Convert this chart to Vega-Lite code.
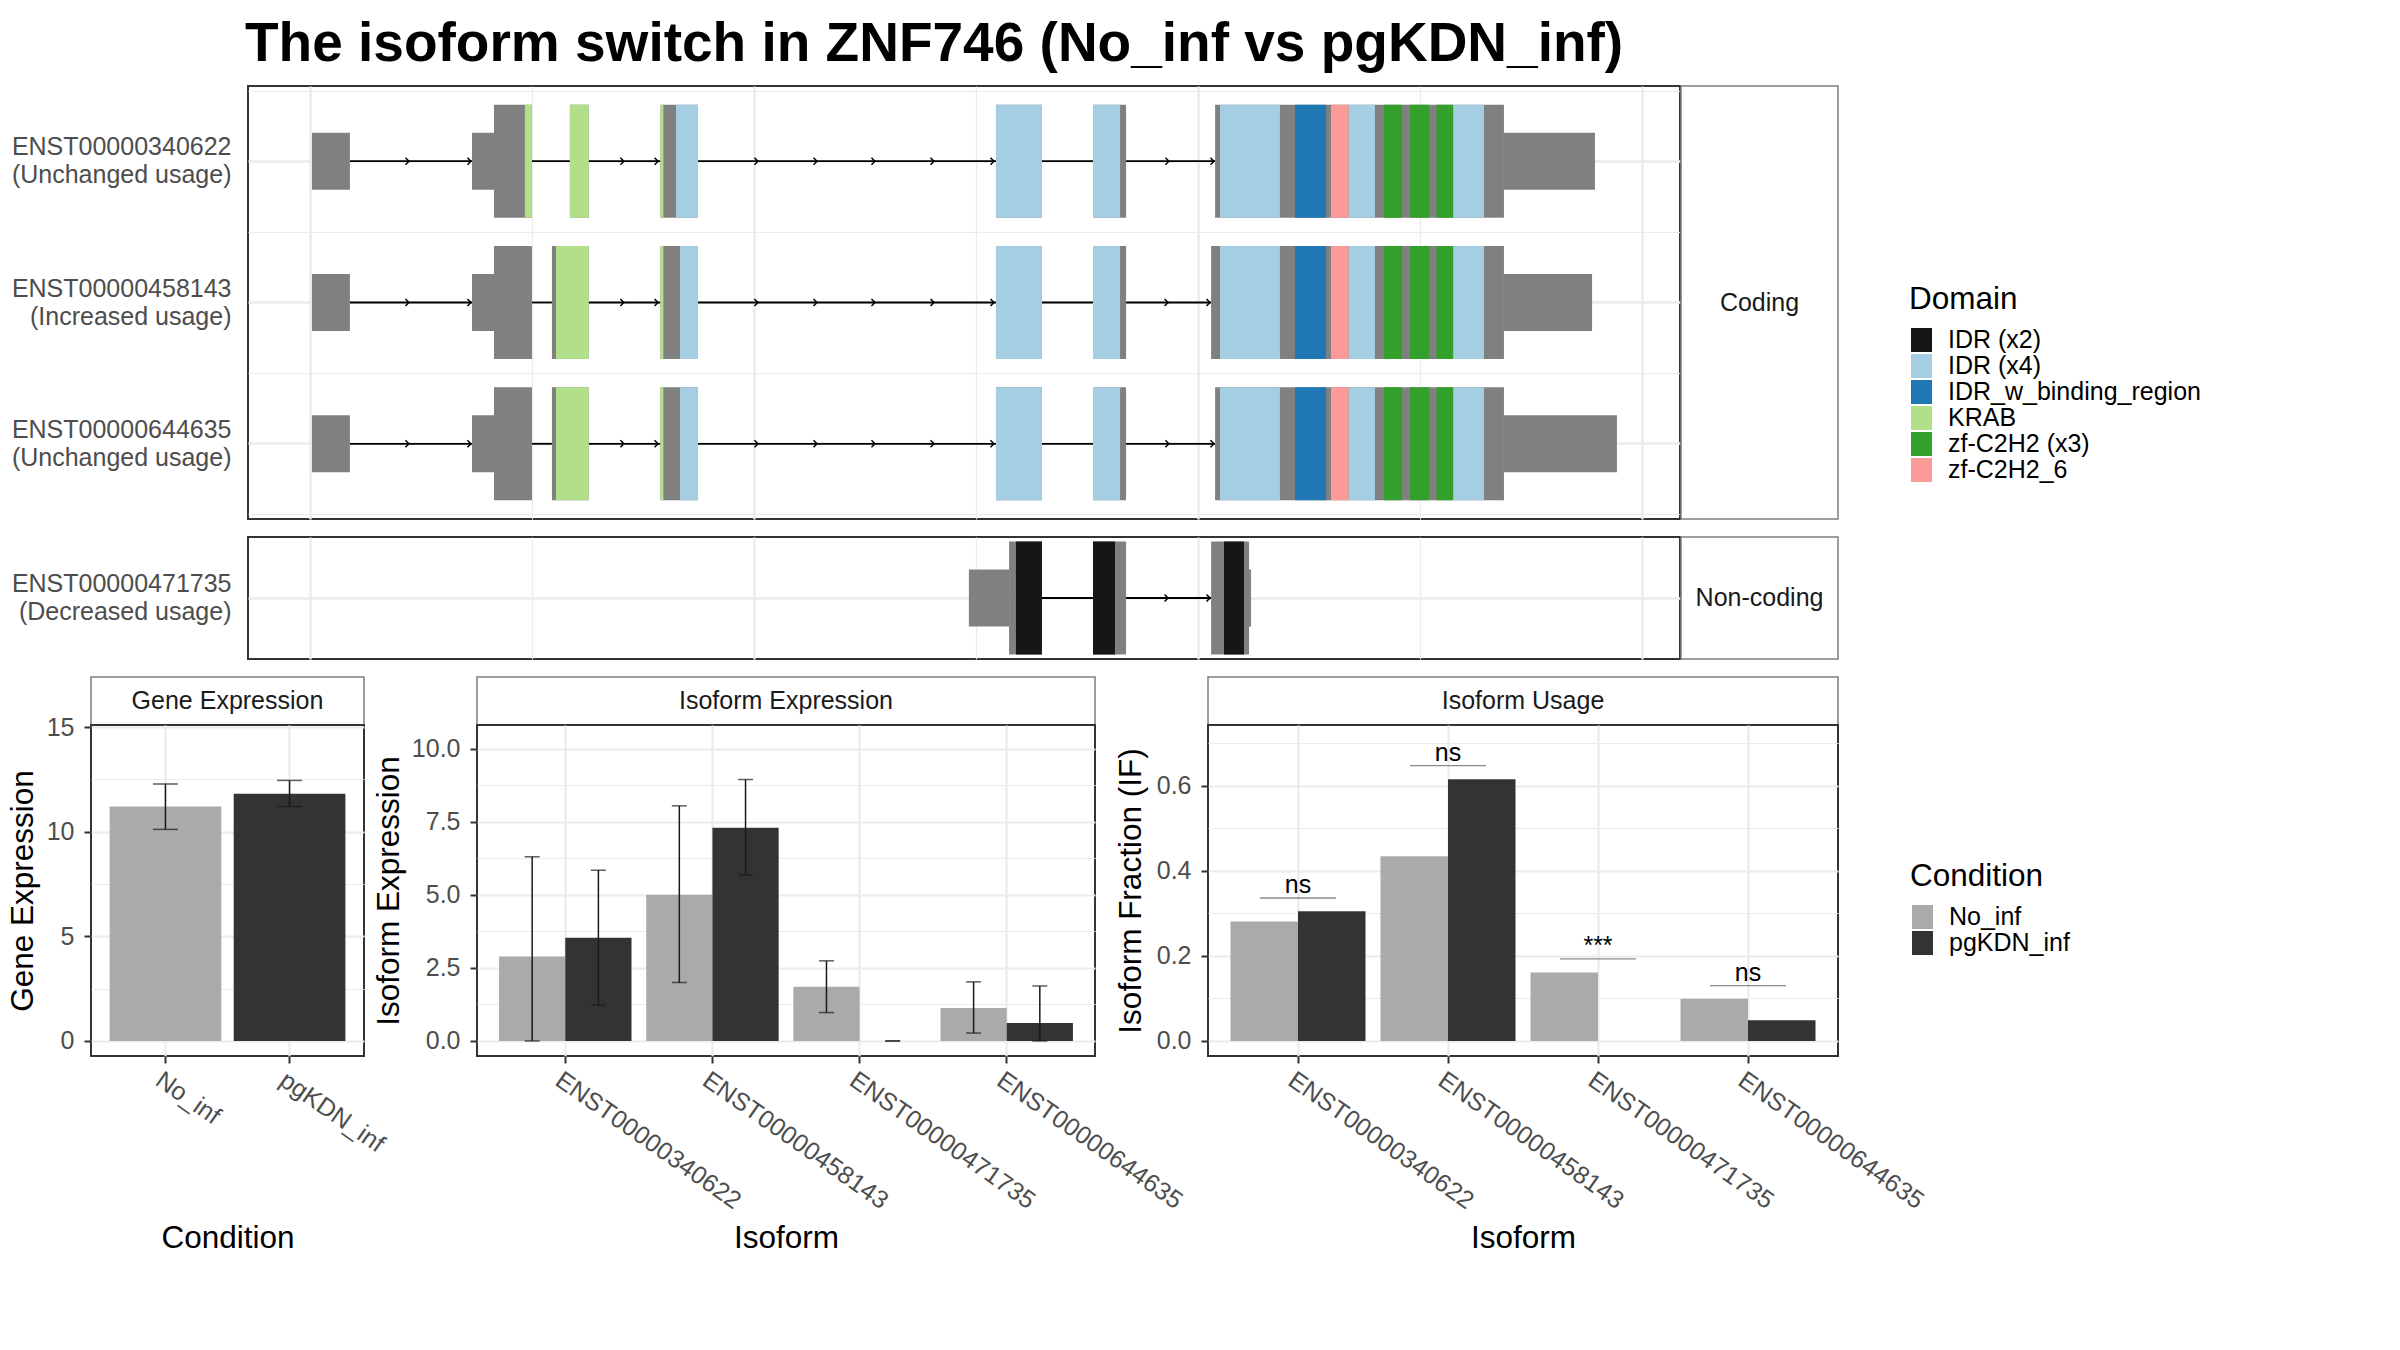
{
  "$schema": "https://vega.github.io/schema/vega-lite/v6.json",
  "background": "white",
  "padding": {"left": 6, "top": 17, "right": 10, "bottom": 10},
  "title": {"text": "The isoform switch in ZNF746 (No_inf vs pgKDN_inf)", "anchor": "start", "frame": "bounds", "fontSize": 55, "fontWeight": "bold", "color": "black", "font": "Liberation Sans", "dx": 239, "offset": 12},
  "datasets": {
    "exons": [
      {"panel": "Coding", "transcript": "ENST00000340622\n(Unchanged usage)", "part": "UTR", "start": 9, "end": 180},
      {"panel": "Coding", "transcript": "ENST00000340622\n(Unchanged usage)", "part": "UTR", "start": 730, "end": 829},
      {"panel": "Coding", "transcript": "ENST00000340622\n(Unchanged usage)", "part": "UTR", "start": 5378, "end": 5788},
      {"panel": "Coding", "transcript": "ENST00000340622\n(Unchanged usage)", "part": "CDS", "start": 829, "end": 1000},
      {"panel": "Coding", "transcript": "ENST00000340622\n(Unchanged usage)", "part": "CDS", "start": 1171, "end": 1255},
      {"panel": "Coding", "transcript": "ENST00000340622\n(Unchanged usage)", "part": "CDS", "start": 1579, "end": 1748},
      {"panel": "Coding", "transcript": "ENST00000340622\n(Unchanged usage)", "part": "CDS", "start": 3090, "end": 3297},
      {"panel": "Coding", "transcript": "ENST00000340622\n(Unchanged usage)", "part": "CDS", "start": 3527, "end": 3676},
      {"panel": "Coding", "transcript": "ENST00000340622\n(Unchanged usage)", "part": "CDS", "start": 4077, "end": 5378},
      {"panel": "Coding", "transcript": "ENST00000458143\n(Increased usage)", "part": "UTR", "start": 9, "end": 180},
      {"panel": "Coding", "transcript": "ENST00000458143\n(Increased usage)", "part": "UTR", "start": 730, "end": 829},
      {"panel": "Coding", "transcript": "ENST00000458143\n(Increased usage)", "part": "UTR", "start": 5378, "end": 5775},
      {"panel": "Coding", "transcript": "ENST00000458143\n(Increased usage)", "part": "CDS", "start": 829, "end": 1000},
      {"panel": "Coding", "transcript": "ENST00000458143\n(Increased usage)", "part": "CDS", "start": 1090, "end": 1255},
      {"panel": "Coding", "transcript": "ENST00000458143\n(Increased usage)", "part": "CDS", "start": 1579, "end": 1748},
      {"panel": "Coding", "transcript": "ENST00000458143\n(Increased usage)", "part": "CDS", "start": 3090, "end": 3297},
      {"panel": "Coding", "transcript": "ENST00000458143\n(Increased usage)", "part": "CDS", "start": 3527, "end": 3676},
      {"panel": "Coding", "transcript": "ENST00000458143\n(Increased usage)", "part": "CDS", "start": 4059, "end": 5378},
      {"panel": "Coding", "transcript": "ENST00000644635\n(Unchanged usage)", "part": "UTR", "start": 9, "end": 180},
      {"panel": "Coding", "transcript": "ENST00000644635\n(Unchanged usage)", "part": "UTR", "start": 730, "end": 829},
      {"panel": "Coding", "transcript": "ENST00000644635\n(Unchanged usage)", "part": "UTR", "start": 5378, "end": 5887},
      {"panel": "Coding", "transcript": "ENST00000644635\n(Unchanged usage)", "part": "CDS", "start": 829, "end": 1000},
      {"panel": "Coding", "transcript": "ENST00000644635\n(Unchanged usage)", "part": "CDS", "start": 1090, "end": 1255},
      {"panel": "Coding", "transcript": "ENST00000644635\n(Unchanged usage)", "part": "CDS", "start": 1579, "end": 1748},
      {"panel": "Coding", "transcript": "ENST00000644635\n(Unchanged usage)", "part": "CDS", "start": 3090, "end": 3297},
      {"panel": "Coding", "transcript": "ENST00000644635\n(Unchanged usage)", "part": "CDS", "start": 3527, "end": 3676},
      {"panel": "Coding", "transcript": "ENST00000644635\n(Unchanged usage)", "part": "CDS", "start": 4077, "end": 5378},
      {"panel": "Non-coding", "transcript": "ENST00000471735\n(Decreased usage)", "part": "UTR", "start": 2968, "end": 3149},
      {"panel": "Non-coding", "transcript": "ENST00000471735\n(Decreased usage)", "part": "UTR", "start": 4230, "end": 4239},
      {"panel": "Non-coding", "transcript": "ENST00000471735\n(Decreased usage)", "part": "CDS", "start": 3149, "end": 3297},
      {"panel": "Non-coding", "transcript": "ENST00000471735\n(Decreased usage)", "part": "CDS", "start": 3527, "end": 3676},
      {"panel": "Non-coding", "transcript": "ENST00000471735\n(Decreased usage)", "part": "CDS", "start": 4059, "end": 4230}
    ],
    "domains": [
      {"panel": "Coding", "transcript": "ENST00000340622\n(Unchanged usage)", "domain": "KRAB", "start": 968, "end": 1000},
      {"panel": "Coding", "transcript": "ENST00000340622\n(Unchanged usage)", "domain": "KRAB", "start": 1171, "end": 1255},
      {"panel": "Coding", "transcript": "ENST00000340622\n(Unchanged usage)", "domain": "KRAB", "start": 1579, "end": 1592},
      {"panel": "Coding", "transcript": "ENST00000340622\n(Unchanged usage)", "domain": "IDR (x4)", "start": 1649, "end": 1748},
      {"panel": "Coding", "transcript": "ENST00000340622\n(Unchanged usage)", "domain": "IDR (x4)", "start": 3090, "end": 3297},
      {"panel": "Coding", "transcript": "ENST00000340622\n(Unchanged usage)", "domain": "IDR (x4)", "start": 3527, "end": 3649},
      {"panel": "Coding", "transcript": "ENST00000340622\n(Unchanged usage)", "domain": "IDR (x4)", "start": 4099, "end": 4369},
      {"panel": "Coding", "transcript": "ENST00000340622\n(Unchanged usage)", "domain": "IDR (x4)", "start": 4678, "end": 4797},
      {"panel": "Coding", "transcript": "ENST00000340622\n(Unchanged usage)", "domain": "IDR (x4)", "start": 5149, "end": 5288},
      {"panel": "Coding", "transcript": "ENST00000340622\n(Unchanged usage)", "domain": "IDR_w_binding_region", "start": 4437, "end": 4577},
      {"panel": "Coding", "transcript": "ENST00000340622\n(Unchanged usage)", "domain": "zf-C2H2_6", "start": 4599, "end": 4678},
      {"panel": "Coding", "transcript": "ENST00000340622\n(Unchanged usage)", "domain": "zf-C2H2 (x3)", "start": 4838, "end": 4919},
      {"panel": "Coding", "transcript": "ENST00000340622\n(Unchanged usage)", "domain": "zf-C2H2 (x3)", "start": 4955, "end": 5041},
      {"panel": "Coding", "transcript": "ENST00000340622\n(Unchanged usage)", "domain": "zf-C2H2 (x3)", "start": 5074, "end": 5149},
      {"panel": "Coding", "transcript": "ENST00000458143\n(Increased usage)", "domain": "KRAB", "start": 1108, "end": 1255},
      {"panel": "Coding", "transcript": "ENST00000458143\n(Increased usage)", "domain": "KRAB", "start": 1579, "end": 1592},
      {"panel": "Coding", "transcript": "ENST00000458143\n(Increased usage)", "domain": "IDR (x4)", "start": 1667, "end": 1748},
      {"panel": "Coding", "transcript": "ENST00000458143\n(Increased usage)", "domain": "IDR (x4)", "start": 3090, "end": 3297},
      {"panel": "Coding", "transcript": "ENST00000458143\n(Increased usage)", "domain": "IDR (x4)", "start": 3527, "end": 3649},
      {"panel": "Coding", "transcript": "ENST00000458143\n(Increased usage)", "domain": "IDR (x4)", "start": 4099, "end": 4369},
      {"panel": "Coding", "transcript": "ENST00000458143\n(Increased usage)", "domain": "IDR (x4)", "start": 4678, "end": 4797},
      {"panel": "Coding", "transcript": "ENST00000458143\n(Increased usage)", "domain": "IDR (x4)", "start": 5149, "end": 5288},
      {"panel": "Coding", "transcript": "ENST00000458143\n(Increased usage)", "domain": "IDR_w_binding_region", "start": 4437, "end": 4577},
      {"panel": "Coding", "transcript": "ENST00000458143\n(Increased usage)", "domain": "zf-C2H2_6", "start": 4599, "end": 4678},
      {"panel": "Coding", "transcript": "ENST00000458143\n(Increased usage)", "domain": "zf-C2H2 (x3)", "start": 4838, "end": 4919},
      {"panel": "Coding", "transcript": "ENST00000458143\n(Increased usage)", "domain": "zf-C2H2 (x3)", "start": 4955, "end": 5041},
      {"panel": "Coding", "transcript": "ENST00000458143\n(Increased usage)", "domain": "zf-C2H2 (x3)", "start": 5074, "end": 5149},
      {"panel": "Coding", "transcript": "ENST00000644635\n(Unchanged usage)", "domain": "KRAB", "start": 1108, "end": 1255},
      {"panel": "Coding", "transcript": "ENST00000644635\n(Unchanged usage)", "domain": "KRAB", "start": 1579, "end": 1592},
      {"panel": "Coding", "transcript": "ENST00000644635\n(Unchanged usage)", "domain": "IDR (x4)", "start": 1667, "end": 1748},
      {"panel": "Coding", "transcript": "ENST00000644635\n(Unchanged usage)", "domain": "IDR (x4)", "start": 3090, "end": 3297},
      {"panel": "Coding", "transcript": "ENST00000644635\n(Unchanged usage)", "domain": "IDR (x4)", "start": 3527, "end": 3649},
      {"panel": "Coding", "transcript": "ENST00000644635\n(Unchanged usage)", "domain": "IDR (x4)", "start": 4099, "end": 4369},
      {"panel": "Coding", "transcript": "ENST00000644635\n(Unchanged usage)", "domain": "IDR (x4)", "start": 4678, "end": 4797},
      {"panel": "Coding", "transcript": "ENST00000644635\n(Unchanged usage)", "domain": "IDR (x4)", "start": 5149, "end": 5288},
      {"panel": "Coding", "transcript": "ENST00000644635\n(Unchanged usage)", "domain": "IDR_w_binding_region", "start": 4437, "end": 4577},
      {"panel": "Coding", "transcript": "ENST00000644635\n(Unchanged usage)", "domain": "zf-C2H2_6", "start": 4599, "end": 4678},
      {"panel": "Coding", "transcript": "ENST00000644635\n(Unchanged usage)", "domain": "zf-C2H2 (x3)", "start": 4838, "end": 4919},
      {"panel": "Coding", "transcript": "ENST00000644635\n(Unchanged usage)", "domain": "zf-C2H2 (x3)", "start": 4955, "end": 5041},
      {"panel": "Coding", "transcript": "ENST00000644635\n(Unchanged usage)", "domain": "zf-C2H2 (x3)", "start": 5074, "end": 5149},
      {"panel": "Non-coding", "transcript": "ENST00000471735\n(Decreased usage)", "domain": "IDR (x2)", "start": 3180, "end": 3297},
      {"panel": "Non-coding", "transcript": "ENST00000471735\n(Decreased usage)", "domain": "IDR (x2)", "start": 3527, "end": 3626},
      {"panel": "Non-coding", "transcript": "ENST00000471735\n(Decreased usage)", "domain": "IDR (x2)", "start": 4117, "end": 4207}
    ],
    "introns": [
      {"panel": "Coding", "transcript": "ENST00000340622\n(Unchanged usage)", "start": 180, "end": 730},
      {"panel": "Coding", "transcript": "ENST00000340622\n(Unchanged usage)", "start": 1000, "end": 1171},
      {"panel": "Coding", "transcript": "ENST00000340622\n(Unchanged usage)", "start": 1255, "end": 1579},
      {"panel": "Coding", "transcript": "ENST00000340622\n(Unchanged usage)", "start": 1748, "end": 3090},
      {"panel": "Coding", "transcript": "ENST00000340622\n(Unchanged usage)", "start": 3297, "end": 3527},
      {"panel": "Coding", "transcript": "ENST00000340622\n(Unchanged usage)", "start": 3676, "end": 4077},
      {"panel": "Coding", "transcript": "ENST00000458143\n(Increased usage)", "start": 180, "end": 730},
      {"panel": "Coding", "transcript": "ENST00000458143\n(Increased usage)", "start": 1000, "end": 1090},
      {"panel": "Coding", "transcript": "ENST00000458143\n(Increased usage)", "start": 1255, "end": 1579},
      {"panel": "Coding", "transcript": "ENST00000458143\n(Increased usage)", "start": 1748, "end": 3090},
      {"panel": "Coding", "transcript": "ENST00000458143\n(Increased usage)", "start": 3297, "end": 3527},
      {"panel": "Coding", "transcript": "ENST00000458143\n(Increased usage)", "start": 3676, "end": 4059},
      {"panel": "Coding", "transcript": "ENST00000644635\n(Unchanged usage)", "start": 180, "end": 730},
      {"panel": "Coding", "transcript": "ENST00000644635\n(Unchanged usage)", "start": 1000, "end": 1090},
      {"panel": "Coding", "transcript": "ENST00000644635\n(Unchanged usage)", "start": 1255, "end": 1579},
      {"panel": "Coding", "transcript": "ENST00000644635\n(Unchanged usage)", "start": 1748, "end": 3090},
      {"panel": "Coding", "transcript": "ENST00000644635\n(Unchanged usage)", "start": 3297, "end": 3527},
      {"panel": "Coding", "transcript": "ENST00000644635\n(Unchanged usage)", "start": 3676, "end": 4077},
      {"panel": "Non-coding", "transcript": "ENST00000471735\n(Decreased usage)", "start": 3297, "end": 3527},
      {"panel": "Non-coding", "transcript": "ENST00000471735\n(Decreased usage)", "start": 3676, "end": 4059}
    ],
    "arrows": [
      {"panel": "Coding", "transcript": "ENST00000340622\n(Unchanged usage)", "pos": 446},
      {"panel": "Coding", "transcript": "ENST00000340622\n(Unchanged usage)", "pos": 725},
      {"panel": "Coding", "transcript": "ENST00000340622\n(Unchanged usage)", "pos": 1414},
      {"panel": "Coding", "transcript": "ENST00000340622\n(Unchanged usage)", "pos": 1568},
      {"panel": "Coding", "transcript": "ENST00000340622\n(Unchanged usage)", "pos": 2018},
      {"panel": "Coding", "transcript": "ENST00000340622\n(Unchanged usage)", "pos": 2284},
      {"panel": "Coding", "transcript": "ENST00000340622\n(Unchanged usage)", "pos": 2545},
      {"panel": "Coding", "transcript": "ENST00000340622\n(Unchanged usage)", "pos": 2811},
      {"panel": "Coding", "transcript": "ENST00000340622\n(Unchanged usage)", "pos": 3081},
      {"panel": "Coding", "transcript": "ENST00000340622\n(Unchanged usage)", "pos": 3869},
      {"panel": "Coding", "transcript": "ENST00000340622\n(Unchanged usage)", "pos": 4072},
      {"panel": "Coding", "transcript": "ENST00000458143\n(Increased usage)", "pos": 446},
      {"panel": "Coding", "transcript": "ENST00000458143\n(Increased usage)", "pos": 725},
      {"panel": "Coding", "transcript": "ENST00000458143\n(Increased usage)", "pos": 1414},
      {"panel": "Coding", "transcript": "ENST00000458143\n(Increased usage)", "pos": 1568},
      {"panel": "Coding", "transcript": "ENST00000458143\n(Increased usage)", "pos": 2018},
      {"panel": "Coding", "transcript": "ENST00000458143\n(Increased usage)", "pos": 2284},
      {"panel": "Coding", "transcript": "ENST00000458143\n(Increased usage)", "pos": 2545},
      {"panel": "Coding", "transcript": "ENST00000458143\n(Increased usage)", "pos": 2811},
      {"panel": "Coding", "transcript": "ENST00000458143\n(Increased usage)", "pos": 3081},
      {"panel": "Coding", "transcript": "ENST00000458143\n(Increased usage)", "pos": 3865},
      {"panel": "Coding", "transcript": "ENST00000458143\n(Increased usage)", "pos": 4054},
      {"panel": "Coding", "transcript": "ENST00000644635\n(Unchanged usage)", "pos": 446},
      {"panel": "Coding", "transcript": "ENST00000644635\n(Unchanged usage)", "pos": 725},
      {"panel": "Coding", "transcript": "ENST00000644635\n(Unchanged usage)", "pos": 1414},
      {"panel": "Coding", "transcript": "ENST00000644635\n(Unchanged usage)", "pos": 1568},
      {"panel": "Coding", "transcript": "ENST00000644635\n(Unchanged usage)", "pos": 2018},
      {"panel": "Coding", "transcript": "ENST00000644635\n(Unchanged usage)", "pos": 2284},
      {"panel": "Coding", "transcript": "ENST00000644635\n(Unchanged usage)", "pos": 2545},
      {"panel": "Coding", "transcript": "ENST00000644635\n(Unchanged usage)", "pos": 2811},
      {"panel": "Coding", "transcript": "ENST00000644635\n(Unchanged usage)", "pos": 3081},
      {"panel": "Coding", "transcript": "ENST00000644635\n(Unchanged usage)", "pos": 3869},
      {"panel": "Coding", "transcript": "ENST00000644635\n(Unchanged usage)", "pos": 4072},
      {"panel": "Non-coding", "transcript": "ENST00000471735\n(Decreased usage)", "pos": 3865},
      {"panel": "Non-coding", "transcript": "ENST00000471735\n(Decreased usage)", "pos": 4054}
    ],
    "gene": [
      {"Condition": "No_inf", "value": 11.2, "lo": 10.11, "hi": 12.28},
      {"Condition": "pgKDN_inf", "value": 11.81, "lo": 11.2, "hi": 12.45}
    ],
    "isoExpr": [
      {"isoform": "ENST00000340622", "Condition": "No_inf", "value": 2.89, "lo": 0.0, "hi": 6.3},
      {"isoform": "ENST00000340622", "Condition": "pgKDN_inf", "value": 3.53, "lo": 1.22, "hi": 5.84},
      {"isoform": "ENST00000458143", "Condition": "No_inf", "value": 5.0, "lo": 2.0, "hi": 8.04},
      {"isoform": "ENST00000458143", "Condition": "pgKDN_inf", "value": 7.29, "lo": 5.68, "hi": 8.94},
      {"isoform": "ENST00000471735", "Condition": "No_inf", "value": 1.85, "lo": 0.97, "hi": 2.74},
      {"isoform": "ENST00000471735", "Condition": "pgKDN_inf", "value": 0.0, "lo": 0.0, "hi": 0.0},
      {"isoform": "ENST00000644635", "Condition": "No_inf", "value": 1.13, "lo": 0.27, "hi": 2.02},
      {"isoform": "ENST00000644635", "Condition": "pgKDN_inf", "value": 0.61, "lo": 0.0, "hi": 1.88}
    ],
    "usage": [
      {"isoform": "ENST00000340622", "Condition": "No_inf", "value": 0.281},
      {"isoform": "ENST00000340622", "Condition": "pgKDN_inf", "value": 0.305},
      {"isoform": "ENST00000458143", "Condition": "No_inf", "value": 0.434},
      {"isoform": "ENST00000458143", "Condition": "pgKDN_inf", "value": 0.615},
      {"isoform": "ENST00000471735", "Condition": "No_inf", "value": 0.161},
      {"isoform": "ENST00000471735", "Condition": "pgKDN_inf", "value": 0.0},
      {"isoform": "ENST00000644635", "Condition": "No_inf", "value": 0.0993},
      {"isoform": "ENST00000644635", "Condition": "pgKDN_inf", "value": 0.0488}
    ],
    "sig": [
      {"isoform": "ENST00000340622", "y": 0.336, "label": "ns"},
      {"isoform": "ENST00000458143", "y": 0.647, "label": "ns"},
      {"isoform": "ENST00000471735", "y": 0.193, "label": "***"},
      {"isoform": "ENST00000644635", "y": 0.130, "label": "ns"}
    ]
  },
  "concat": [
    {
      "concat": [
        {
          "width": 156, "height": 433,
          "data": {"values": []},
          "mark": {"type": "point", "opacity": 0},
          "encoding": {},
          "view": {"stroke": null, "fill": null}
        },
        {
          "width": 1432, "height": 433,
          "layer": [
            {
              "data": {"name": "introns"},
              "transform": [{"filter": "datum.panel === 'Coding'"}],
              "mark": {"type": "rule", "color": "black", "strokeWidth": 1.8},
              "encoding": {
                "x": {"field": "start", "type": "quantitative", "scale": {"domain": [-279, 6171], "nice": false, "zero": false},
                      "axis": {"title": null, "values": [0, 1000, 2000, 3000, 4000, 5000, 6000], "labels": false, "ticks": false, "domain": false, "grid": true, "gridColor": "#EBEBEB", "gridWidth": {"condition": {"test": "datum.value % 2000 === 0", "value": 2.4}, "value": 1.2}}},
                "x2": {"field": "end"},
                "y": {"field": "transcript", "type": "nominal", "sort": null,
                      "scale": {"domain": ["ENST00000340622\n(Unchanged usage)", "ENST00000458143\n(Increased usage)", "ENST00000644635\n(Unchanged usage)"], "paddingInner": 0, "paddingOuter": 0.032},
                      "axis": {"title": null, "orient": "left", "labelExpr": "split(datum.label, '\\n')", "labelLineHeight": 28, "labelOffset": -14, "labelFontSize": 25, "labelColor": "#4D4D4D", "labelPadding": 17, "labelLimit": 500, "ticks": false, "domain": false, "grid": true, "gridColor": "#EBEBEB", "gridWidth": 2.4, "bandPosition": 0.5, "tickExtra": false}}
              }
            },
            {
              "data": {"name": "exons"},
              "transform": [{"filter": "datum.panel === 'Coding' && datum.part === 'UTR'"}],
              "mark": {"type": "bar", "orient": "horizontal", "height": 57, "color": "#808080"},
              "encoding": {
                "x": {"field": "start", "type": "quantitative", "scale": {"domain": [-279, 6171], "nice": false, "zero": false}, "axis": null},
                "x2": {"field": "end"},
                "y": {"field": "transcript", "type": "nominal", "sort": null,
                      "scale": {"domain": ["ENST00000340622\n(Unchanged usage)", "ENST00000458143\n(Increased usage)", "ENST00000644635\n(Unchanged usage)"], "paddingInner": 0, "paddingOuter": 0.032},
                      "axis": {"title": null, "orient": "left", "labels": false, "ticks": false, "domain": false, "grid": true, "gridColor": "#EBEBEB", "gridWidth": 1.2, "tickBand": "extent"}}
              }
            },
            {
              "data": {"name": "exons"},
              "transform": [{"filter": "datum.panel === 'Coding' && datum.part === 'CDS'"}],
              "mark": {"type": "bar", "orient": "horizontal", "height": 113, "color": "#808080"},
              "encoding": {
                "x": {"field": "start", "type": "quantitative", "scale": {"domain": [-279, 6171], "nice": false, "zero": false}, "axis": null},
                "x2": {"field": "end"},
                "y": {"field": "transcript", "type": "nominal", "sort": null,
                      "scale": {"domain": ["ENST00000340622\n(Unchanged usage)", "ENST00000458143\n(Increased usage)", "ENST00000644635\n(Unchanged usage)"], "paddingInner": 0, "paddingOuter": 0.032}, "axis": null}
              }
            },
            {
              "data": {"name": "domains"},
              "transform": [{"filter": "datum.panel === 'Coding'"}],
              "mark": {"type": "bar", "orient": "horizontal", "height": 113, "opacity": 1},
              "encoding": {
                "x": {"field": "start", "type": "quantitative", "scale": {"domain": [-279, 6171], "nice": false, "zero": false}, "axis": null},
                "x2": {"field": "end"},
                "y": {"field": "transcript", "type": "nominal", "sort": null,
                      "scale": {"domain": ["ENST00000340622\n(Unchanged usage)", "ENST00000458143\n(Increased usage)", "ENST00000644635\n(Unchanged usage)"], "paddingInner": 0, "paddingOuter": 0.032}, "axis": null},
                "color": {"field": "domain", "type": "nominal",
                          "scale": {"domain": ["IDR (x2)", "IDR (x4)", "IDR_w_binding_region", "KRAB", "zf-C2H2 (x3)", "zf-C2H2_6"], "range": ["#161616", "#A6CEE3", "#1F78B4", "#B2DF8A", "#33A02C", "#FB9A99"]},
                          "legend": {"title": "Domain", "orient": "none", "legendX": 1818, "legendY": 198, "symbolType": "M-0.875,-1H0.875V1H-0.875Z", "symbolSize": 576, "symbolStrokeWidth": 0, "symbolOpacity": 1, "labelFontSize": 25, "labelColor": "black", "labelLimit": 500, "titleFontSize": 31.5, "titleFontWeight": "normal", "titleColor": "black", "titlePadding": 12, "rowPadding": 0, "labelOffset": 14, "padding": 0}}
              }
            },
            {
              "data": {"name": "arrows"},
              "transform": [{"filter": "datum.panel === 'Coding'"}],
              "mark": {"type": "point", "shape": "M-1,-1L0,0L-1,1", "filled": false, "color": "black", "strokeWidth": 1.5, "size": 49, "opacity": 1},
              "encoding": {
                "x": {"field": "pos", "type": "quantitative", "scale": {"domain": [-279, 6171], "nice": false, "zero": false}, "axis": null},
                "y": {"field": "transcript", "type": "nominal", "sort": null,
                      "scale": {"domain": ["ENST00000340622\n(Unchanged usage)", "ENST00000458143\n(Increased usage)", "ENST00000644635\n(Unchanged usage)"], "paddingInner": 0, "paddingOuter": 0.032}, "axis": null}
              }
            }
          ],
          "resolve": {"axis": {"x": "independent", "y": "independent"}}
        },
        {
          "width": 157, "height": 433,
          "data": {"values": [{"strip": "Coding"}]},
          "mark": {"type": "text", "fontSize": 25, "color": "#1A1A1A"},
          "encoding": {"text": {"field": "strip"}},
          "view": {"stroke": "#7F7F7F", "strokeWidth": 1.5, "fill": "white"}
        },
        {
          "width": 156, "height": 122,
          "data": {"values": []},
          "mark": {"type": "point", "opacity": 0},
          "encoding": {},
          "view": {"stroke": null, "fill": null}
        },
        {
          "width": 1432, "height": 122,
          "layer": [
            {
              "data": {"name": "introns"},
              "transform": [{"filter": "datum.panel === 'Non-coding'"}],
              "mark": {"type": "rule", "color": "black", "strokeWidth": 1.8},
              "encoding": {
                "x": {"field": "start", "type": "quantitative", "scale": {"domain": [-279, 6171], "nice": false, "zero": false},
                      "axis": {"title": null, "values": [0, 1000, 2000, 3000, 4000, 5000, 6000], "labels": false, "ticks": false, "domain": false, "grid": true, "gridColor": "#EBEBEB", "gridWidth": {"condition": {"test": "datum.value % 2000 === 0", "value": 2.4}, "value": 1.2}}},
                "x2": {"field": "end"},
                "y": {"field": "transcript", "type": "nominal", "sort": null,
                      "scale": {"domain": ["ENST00000471735\n(Decreased usage)"], "paddingInner": 0, "paddingOuter": 0},
                      "axis": {"title": null, "orient": "left", "labelExpr": "split(datum.label, '\\n')", "labelLineHeight": 28, "labelOffset": -14, "labelFontSize": 25, "labelColor": "#4D4D4D", "labelPadding": 17, "labelLimit": 500, "ticks": false, "domain": false, "grid": true, "gridColor": "#EBEBEB", "gridWidth": 2.4, "bandPosition": 0.5, "tickExtra": false}}
              }
            },
            {
              "data": {"name": "exons"},
              "transform": [{"filter": "datum.panel === 'Non-coding' && datum.part === 'UTR'"}],
              "mark": {"type": "bar", "orient": "horizontal", "height": 57, "color": "#808080"},
              "encoding": {
                "x": {"field": "start", "type": "quantitative", "scale": {"domain": [-279, 6171], "nice": false, "zero": false}, "axis": null},
                "x2": {"field": "end"},
                "y": {"field": "transcript", "type": "nominal", "sort": null, "scale": {"domain": ["ENST00000471735\n(Decreased usage)"], "paddingInner": 0, "paddingOuter": 0}, "axis": null}
              }
            },
            {
              "data": {"name": "exons"},
              "transform": [{"filter": "datum.panel === 'Non-coding' && datum.part === 'CDS'"}],
              "mark": {"type": "bar", "orient": "horizontal", "height": 113, "color": "#808080"},
              "encoding": {
                "x": {"field": "start", "type": "quantitative", "scale": {"domain": [-279, 6171], "nice": false, "zero": false}, "axis": null},
                "x2": {"field": "end"},
                "y": {"field": "transcript", "type": "nominal", "sort": null, "scale": {"domain": ["ENST00000471735\n(Decreased usage)"], "paddingInner": 0, "paddingOuter": 0}, "axis": null}
              }
            },
            {
              "data": {"name": "domains"},
              "transform": [{"filter": "datum.panel === 'Non-coding'"}],
              "mark": {"type": "bar", "orient": "horizontal", "height": 113, "opacity": 1},
              "encoding": {
                "x": {"field": "start", "type": "quantitative", "scale": {"domain": [-279, 6171], "nice": false, "zero": false}, "axis": null},
                "x2": {"field": "end"},
                "y": {"field": "transcript", "type": "nominal", "sort": null, "scale": {"domain": ["ENST00000471735\n(Decreased usage)"], "paddingInner": 0, "paddingOuter": 0}, "axis": null},
                "color": {"field": "domain", "type": "nominal",
                          "scale": {"domain": ["IDR (x2)", "IDR (x4)", "IDR_w_binding_region", "KRAB", "zf-C2H2 (x3)", "zf-C2H2_6"], "range": ["#161616", "#A6CEE3", "#1F78B4", "#B2DF8A", "#33A02C", "#FB9A99"]},
                          "legend": {"title": "Domain", "orient": "none", "legendX": 1818, "legendY": 198, "symbolType": "M-0.875,-1H0.875V1H-0.875Z", "symbolSize": 576, "symbolStrokeWidth": 0, "symbolOpacity": 1, "labelFontSize": 25, "labelColor": "black", "labelLimit": 500, "titleFontSize": 31.5, "titleFontWeight": "normal", "titleColor": "black", "titlePadding": 12, "rowPadding": 0, "labelOffset": 14, "padding": 0}}
              }
            },
            {
              "data": {"name": "arrows"},
              "transform": [{"filter": "datum.panel === 'Non-coding'"}],
              "mark": {"type": "point", "shape": "M-1,-1L0,0L-1,1", "filled": false, "color": "black", "strokeWidth": 1.5, "size": 49, "opacity": 1},
              "encoding": {
                "x": {"field": "pos", "type": "quantitative", "scale": {"domain": [-279, 6171], "nice": false, "zero": false}, "axis": null},
                "y": {"field": "transcript", "type": "nominal", "sort": null, "scale": {"domain": ["ENST00000471735\n(Decreased usage)"], "paddingInner": 0, "paddingOuter": 0}, "axis": null}
              }
            }
          ],
          "resolve": {"axis": {"x": "independent", "y": "independent"}}
        },
        {
          "width": 157, "height": 122,
          "data": {"values": [{"strip": "Non-coding"}]},
          "mark": {"type": "text", "fontSize": 25, "color": "#1A1A1A"},
          "encoding": {"text": {"field": "strip"}},
          "view": {"stroke": "#7F7F7F", "strokeWidth": 1.5, "fill": "white"}
        }
      ],
      "columns": 3,
      "spacing": {"row": 18, "column": 1},
      "bounds": "flush",
      "align": "each",
      "resolve": {"scale": {"x": "independent", "y": "independent", "color": "shared"}, "axis": {"x": "independent", "y": "independent"}, "legend": {"color": "shared"}}
    },
    {
      "concat": [
        {
          "width": 273, "height": 48,
          "data": {"values": [{"strip": "Gene Expression"}]},
          "mark": {"type": "text", "fontSize": 25, "color": "#1A1A1A"},
          "encoding": {"text": {"field": "strip"}},
          "view": {"stroke": "#7F7F7F", "strokeWidth": 1.5, "fill": "white"}
        },
        {
          "width": 618, "height": 48,
          "data": {"values": [{"strip": "Isoform Expression"}]},
          "mark": {"type": "text", "fontSize": 25, "color": "#1A1A1A"},
          "encoding": {"text": {"field": "strip"}},
          "view": {"stroke": "#7F7F7F", "strokeWidth": 1.5, "fill": "white"}
        },
        {
          "width": 630, "height": 48,
          "data": {"values": [{"strip": "Isoform Usage"}]},
          "mark": {"type": "text", "fontSize": 25, "color": "#1A1A1A"},
          "encoding": {"text": {"field": "strip"}},
          "view": {"stroke": "#7F7F7F", "strokeWidth": 1.5, "fill": "white"}
        },
        {
          "width": 273, "height": 331,
          "data": {"name": "gene"},
          "encoding": {
            "x": {"field": "Condition", "type": "nominal", "sort": null, "scale": {"domain": ["No_inf", "pgKDN_inf"], "paddingInner": 0.1, "paddingOuter": 0.15},
                  "axis": {"title": "Condition", "labelAngle": 35, "labelAlign": "left", "labelBaseline": "top", "labelPadding": 4, "labelLimit": 500, "grid": true, "gridWidth": 2.2, "bandPosition": 0.5, "tickExtra": false, "titleY": 182, "titleBaseline": "middle"}}
          },
          "layer": [
            {
              "mark": {"type": "bar"},
              "encoding": {
                "y": {"field": "value", "type": "quantitative", "scale": {"domain": [-0.719, 15.099], "nice": false, "zero": false},
                      "axis": {"title": "Gene Expression", "values": [0, 2.5, 5, 7.5, 10, 12.5, 15], "format": "d", "labelExpr": "datum.value % 5 === 0 ? datum.label : ''", "labelPadding": 10, "grid": true, "gridWidth": {"condition": {"test": "datum.value % 5 === 0", "value": 2.2}, "value": 1.1}, "tickOpacity": {"condition": {"test": "datum.value % 5 === 0", "value": 1}, "value": 0}, "titleX": -68, "titleBaseline": "middle"}},
                "color": {"field": "Condition", "type": "nominal", "scale": {"domain": ["No_inf", "pgKDN_inf"], "range": ["#AAAAAA", "#333333"]},
                          "legend": {"title": "Condition", "orient": "none", "legendX": 1819, "legendY": 184, "symbolType": "M-0.875,-1H0.875V1H-0.875Z", "symbolSize": 576, "symbolStrokeWidth": 0, "symbolOpacity": 1, "labelFontSize": 25, "labelColor": "black", "labelLimit": 500, "titleFontSize": 31.5, "titleFontWeight": "normal", "titleColor": "black", "titlePadding": 12, "rowPadding": 0, "labelOffset": 14, "padding": 0}}
              }
            },
            {
              "mark": {"type": "rule", "color": "#1A1A1A", "strokeWidth": 1.5},
              "encoding": {
                "y": {"field": "lo", "type": "quantitative", "scale": {"domain": [-0.719, 15.099], "nice": false, "zero": false}, "axis": null},
                "y2": {"field": "hi"}
              }
            },
            {
              "mark": {"type": "tick", "orient": "horizontal", "size": 25, "thickness": 1.5, "color": "#1A1A1A"},
              "encoding": {"y": {"field": "lo", "type": "quantitative", "scale": {"domain": [-0.719, 15.099], "nice": false, "zero": false}, "axis": null}}
            },
            {
              "mark": {"type": "tick", "orient": "horizontal", "size": 25, "thickness": 1.5, "color": "#1A1A1A"},
              "encoding": {"y": {"field": "hi", "type": "quantitative", "scale": {"domain": [-0.719, 15.099], "nice": false, "zero": false}, "axis": null}}
            }
          ],
          "resolve": {"axis": {"y": "independent"}}
        },
        {
          "width": 618, "height": 331,
          "data": {"name": "isoExpr"},
          "encoding": {
            "x": {"field": "isoform", "type": "nominal", "sort": null, "scale": {"domain": ["ENST00000340622", "ENST00000458143", "ENST00000471735", "ENST00000644635"], "paddingInner": 0.1, "paddingOuter": 0.15},
                  "axis": {"title": "Isoform", "labelAngle": 35, "labelAlign": "left", "labelBaseline": "top", "labelPadding": 4, "labelLimit": 500, "grid": true, "gridWidth": 2.2, "bandPosition": 0.5, "tickExtra": false, "titleY": 182, "titleBaseline": "middle"}},
            "xOffset": {"field": "Condition", "type": "nominal", "scale": {"domain": ["No_inf", "pgKDN_inf"], "paddingInner": 0, "paddingOuter": 0}}
          },
          "layer": [
            {
              "mark": {"type": "bar"},
              "encoding": {
                "y": {"field": "value", "type": "quantitative", "scale": {"domain": [-0.5145, 10.8045], "nice": false, "zero": false},
                      "axis": {"title": "Isoform Expression", "values": [0, 1.25, 2.5, 3.75, 5, 6.25, 7.5, 8.75, 10], "format": ".1f", "labelExpr": "datum.value % 2.5 === 0 ? datum.label : ''", "labelPadding": 10, "grid": true, "gridWidth": {"condition": {"test": "datum.value % 2.5 === 0", "value": 2.2}, "value": 1.1}, "tickOpacity": {"condition": {"test": "datum.value % 2.5 === 0", "value": 1}, "value": 0}, "titleX": -88, "titleBaseline": "middle"}},
                "color": {"field": "Condition", "type": "nominal", "scale": {"domain": ["No_inf", "pgKDN_inf"], "range": ["#AAAAAA", "#333333"]},
                          "legend": {"title": "Condition", "orient": "none", "legendX": 1819, "legendY": 184, "symbolType": "M-0.875,-1H0.875V1H-0.875Z", "symbolSize": 576, "symbolStrokeWidth": 0, "symbolOpacity": 1, "labelFontSize": 25, "labelColor": "black", "labelLimit": 500, "titleFontSize": 31.5, "titleFontWeight": "normal", "titleColor": "black", "titlePadding": 12, "rowPadding": 0, "labelOffset": 14, "padding": 0}}
              }
            },
            {
              "mark": {"type": "rule", "color": "#1A1A1A", "strokeWidth": 1.5},
              "encoding": {
                "y": {"field": "lo", "type": "quantitative", "scale": {"domain": [-0.5145, 10.8045], "nice": false, "zero": false}, "axis": null},
                "y2": {"field": "hi"}
              }
            },
            {
              "mark": {"type": "tick", "orient": "horizontal", "size": 15, "thickness": 1.5, "color": "#1A1A1A"},
              "encoding": {"y": {"field": "lo", "type": "quantitative", "scale": {"domain": [-0.5145, 10.8045], "nice": false, "zero": false}, "axis": null}}
            },
            {
              "mark": {"type": "tick", "orient": "horizontal", "size": 15, "thickness": 1.5, "color": "#1A1A1A"},
              "encoding": {"y": {"field": "hi", "type": "quantitative", "scale": {"domain": [-0.5145, 10.8045], "nice": false, "zero": false}, "axis": null}}
            }
          ],
          "resolve": {"axis": {"y": "independent"}}
        },
        {
          "width": 630, "height": 331,
          "encoding": {
            "x": {"field": "isoform", "type": "nominal", "sort": null, "scale": {"domain": ["ENST00000340622", "ENST00000458143", "ENST00000471735", "ENST00000644635"], "paddingInner": 0.1, "paddingOuter": 0.15},
                  "axis": {"title": "Isoform", "labelAngle": 35, "labelAlign": "left", "labelBaseline": "top", "labelPadding": 4, "labelLimit": 500, "grid": true, "gridWidth": 2.2, "bandPosition": 0.5, "tickExtra": false, "titleY": 182, "titleBaseline": "middle"}}
          },
          "layer": [
            {
              "data": {"name": "usage"},
              "mark": {"type": "bar"},
              "encoding": {
                "xOffset": {"field": "Condition", "type": "nominal", "scale": {"domain": ["No_inf", "pgKDN_inf"], "paddingInner": 0, "paddingOuter": 0}},
                "y": {"field": "value", "type": "quantitative", "scale": {"domain": [-0.0354, 0.7427], "nice": false, "zero": false},
                      "axis": {"title": "Isoform Fraction (IF)", "values": [0, 0.1, 0.2, 0.3, 0.4, 0.5, 0.6, 0.7], "format": ".1f", "labelExpr": "round(datum.value * 10) % 2 === 0 ? datum.label : ''", "labelPadding": 10, "grid": true, "gridWidth": {"condition": {"test": "round(datum.value * 10) % 2 === 0", "value": 2.2}, "value": 1.1}, "tickOpacity": {"condition": {"test": "round(datum.value * 10) % 2 === 0", "value": 1}, "value": 0}, "titleX": -77, "titleBaseline": "middle"}},
                "color": {"field": "Condition", "type": "nominal", "scale": {"domain": ["No_inf", "pgKDN_inf"], "range": ["#AAAAAA", "#333333"]},
                          "legend": {"title": "Condition", "orient": "none", "legendX": 1819, "legendY": 184, "symbolType": "M-0.875,-1H0.875V1H-0.875Z", "symbolSize": 576, "symbolStrokeWidth": 0, "symbolOpacity": 1, "labelFontSize": 25, "labelColor": "black", "labelLimit": 500, "titleFontSize": 31.5, "titleFontWeight": "normal", "titleColor": "black", "titlePadding": 12, "rowPadding": 0, "labelOffset": 14, "padding": 0}}
              }
            },
            {
              "data": {"name": "sig"},
              "mark": {"type": "tick", "orient": "horizontal", "size": 76, "thickness": 1.3, "color": "#5A5A5A"},
              "encoding": {"y": {"field": "y", "type": "quantitative", "scale": {"domain": [-0.0354, 0.7427], "nice": false, "zero": false}, "axis": null}}
            },
            {
              "data": {"name": "sig"},
              "mark": {"type": "text", "fontSize": 25, "baseline": "alphabetic", "dy": -5, "color": "black"},
              "encoding": {
                "y": {"field": "y", "type": "quantitative", "scale": {"domain": [-0.0354, 0.7427], "nice": false, "zero": false}, "axis": null},
                "text": {"field": "label"}
              }
            }
          ],
          "resolve": {"axis": {"y": "independent"}}
        }
      ],
      "columns": 3,
      "spacing": {"row": 0, "column": 113},
      "bounds": "flush",
      "align": "each",
      "resolve": {"scale": {"x": "independent", "y": "independent", "color": "shared", "xOffset": "independent"}, "axis": {"x": "independent", "y": "independent"}, "legend": {"color": "shared"}}
    }
  ],
  "columns": 1,
  "align": "none",
  "spacing": 16,
  "resolve": {"scale": {"color": "independent", "x": "independent", "y": "independent"}, "legend": {"color": "independent"}},
  "config": {
    "font": "Liberation Sans",
    "view": {"stroke": "#333333", "strokeWidth": 2},
    "axis": {"domain": false, "labelFontSize": 25, "labelColor": "#4D4D4D", "titleFontSize": 31.5, "titleFontWeight": "normal", "titleColor": "black", "gridColor": "#EBEBEB", "tickColor": "#333333", "tickWidth": 2, "tickSize": 7},
    "legend": {"titleFontWeight": "normal"}
  }
}
